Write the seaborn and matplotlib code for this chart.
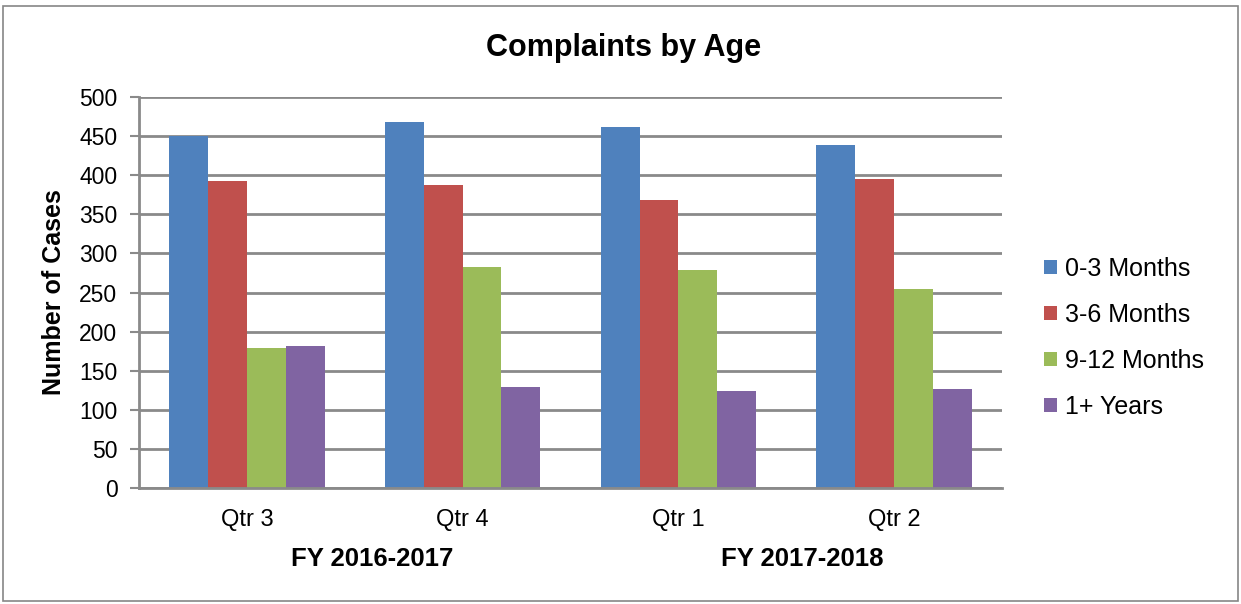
import matplotlib
matplotlib.use("Agg")
import matplotlib.pyplot as plt
import matplotlib.transforms as mtransforms
from matplotlib.patches import Rectangle
import seaborn as sns
import pandas as pd

quarters = ["Qtr 3", "Qtr 4", "Qtr 1", "Qtr 2"]
fiscal_years = ["FY 2016-2017", "FY 2017-2018"]
series = ["0-3 Months", "3-6 Months", "9-12 Months", "1+ Years"]
v_0_3 = [450, 468, 461, 438]
v_3_6 = [392, 388, 368, 395]
v_9_12 = [179, 283, 279, 255]
v_1plus = [181, 129, 124, 127]
colors = ["#4F81BD", "#C0504D", "#9BBB59", "#8064A2"]

rows = []
for name, vals in zip(series, [v_0_3, v_3_6, v_9_12, v_1plus]):
    for q, v in zip(quarters, vals):
        rows.append({"Quarter": q, "Age": name, "Cases": v})
df = pd.DataFrame(rows)

sns.set_theme(style="white")
plt.rcParams["font.family"] = ["Liberation Sans", "DejaVu Sans"]
plt.rcParams["text.color"] = "black"
plt.rcParams["axes.labelcolor"] = "black"
plt.rcParams["xtick.color"] = "black"
plt.rcParams["ytick.color"] = "black"

W, H = 1241, 604
fig = plt.figure(figsize=(W / 100, H / 100), dpi=100)
fig.patch.set_facecolor("white")
fig.add_artist(Rectangle((3 / W, 3 / H), (W - 6) / W, (H - 9) / H,
                         transform=fig.transFigure, fill=False,
                         edgecolor="#868686", linewidth=1.2))

ax = fig.add_axes([139 / W, (H - 488) / H, (1002 - 139) / W, (488 - 97) / H])
sns.barplot(data=df, x="Quarter", y="Cases", hue="Age", order=quarters,
            hue_order=series, palette=colors, width=0.72, saturation=1,
            ax=ax, linewidth=0, errorbar=None)

ax.set_ylim(0, 500)
ax.set_xlim(-0.5, 3.5)
ax.set_yticks(range(0, 501, 50))
ax.yaxis.grid(True, color="#8a8a8a", linewidth=2)
ax.set_axisbelow(True)
for s in ["top", "right"]:
    ax.spines[s].set_visible(False)
for s in ["left", "bottom"]:
    ax.spines[s].set_color("#8a8a8a")
    ax.spines[s].set_linewidth(2)
ax.tick_params(axis="y", length=6.5, width=1.5, color="#8a8a8a",
               labelcolor="black", labelsize=16.5, pad=9, left=True)
ax.tick_params(axis="x", length=0, labelsize=17, labelcolor="black", pad=15)
ax.set_xlabel("")
ax.set_ylabel("")
fig.text(54 / W, 1 - 292 / H, "Number of Cases", rotation=90, ha="center",
         va="center", fontsize=18, fontweight="bold")

trans = mtransforms.blended_transform_factory(ax.transData, fig.transFigure)
for xpos, fy in zip([0.58, 2.573], fiscal_years):
    ax.text(xpos, 1 - 559 / H, fy, transform=trans, ha="center", va="center",
            fontsize=18.5, fontweight="bold")

fig.text(624 / W, 1 - 48 / H, "Complaints by Age", ha="center", va="center",
         fontsize=22, fontweight="bold")

handles, labels = ax.get_legend_handles_labels()
leg = ax.legend(handles, labels, loc="center left",
                bbox_to_anchor=(1044 / W, 1 - 338 / H),
                bbox_transform=fig.transFigure, frameon=False,
                fontsize=18, handlelength=0.52, handleheight=0.52,
                handletextpad=0.32, labelspacing=0.88,
                borderpad=0, borderaxespad=0)

fig.savefig("out.png", dpi=100)
